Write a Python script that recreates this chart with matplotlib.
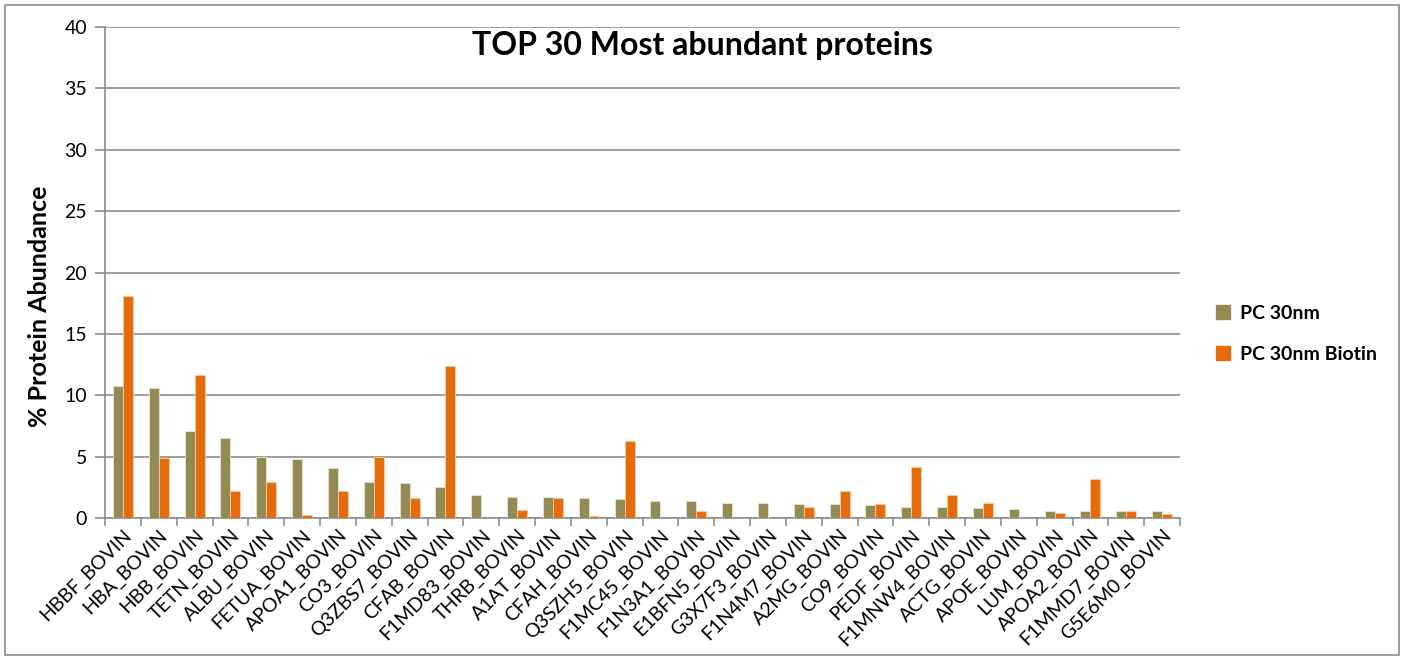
import numpy as np
import matplotlib
matplotlib.use('Agg')
import matplotlib.pyplot as plt
from matplotlib.patches import Rectangle, Patch

proteinas = ['HBBF_BOVIN', 'HBA_BOVIN', 'HBB_BOVIN', 'TETN_BOVIN', 'ALBU_BOVIN',
             'FETUA_BOVIN', 'APOA1_BOVIN', 'CO3_BOVIN', 'Q3ZBS7_BOVIN', 'CFAB_BOVIN',
             'F1MD83_BOVIN', 'THRB_BOVIN', 'A1AT_BOVIN', 'CFAH_BOVIN', 'Q3SZH5_BOVIN',
             'F1MC45_BOVIN', 'F1N3A1_BOVIN', 'E1BFN5_BOVIN', 'G3X7F3_BOVIN', 'F1N4M7_BOVIN',
             'A2MG_BOVIN', 'CO9_BOVIN', 'PEDF_BOVIN', 'F1MNW4_BOVIN', 'ACTG_BOVIN',
             'APOE_BOVIN', 'LUM_BOVIN', 'APOA2_BOVIN', 'F1MMD7_BOVIN', 'G5E6M0_BOVIN']
pc_30nm = [10.74, 10.55, 7.1, 6.53, 5.0, 4.81, 4.1, 2.9, 2.87, 2.51,
           1.91, 1.75, 1.75, 1.67, 1.53, 1.42, 1.42, 1.23, 1.23, 1.15,
           1.15, 1.09, 0.87, 0.87, 0.85, 0.74, 0.6, 0.57, 0.57, 0.57]
pc_30nm_biotin = [18.1, 4.92, 11.61, 2.16, 2.92, 0.27, 2.19, 5.0, 1.64, 12.35,
                  0.0, 0.66, 1.67, 0.14, 6.28, 0.0, 0.55, 0.0, 0.0, 0.93,
                  2.24, 1.17, 4.15, 1.86, 1.2, 0.0, 0.44, 3.17, 0.57, 0.3]

plt.rcParams['font.family'] = ['Lato', 'DejaVu Sans']

fig = plt.figure(figsize=(14.05, 6.59), dpi=100)
ax = fig.add_axes([105 / 1405, 141 / 659, 1075 / 1405, 491 / 659])

x = np.arange(len(proteinas))
w = 0.28
ax.bar(x - w / 2, pc_30nm, w, color='#948A54', edgecolor='#e8e4d4', linewidth=0.6,
       label='PC 30nm', zorder=3)
ax.bar(x + w / 2, pc_30nm_biotin, w, color='#E46C0A', edgecolor='#f6c9a4', linewidth=0.6,
       label='PC 30nm Biotin', zorder=3)

ax.set_xlim(-0.5, len(proteinas) - 0.5)
ax.set_ylim(0, 40)
ax.set_yticks(np.arange(0, 41, 5))
ax.yaxis.grid(True, color='#8c8c8c', linewidth=1.2)
ax.set_axisbelow(True)

# ticks entre categorias, etiquetas en el centro
ax.set_xticks(np.arange(-0.5, len(proteinas), 1))
ax.set_xticklabels([])
ax.set_xticks(x, minor=True)
ax.set_xticklabels(proteinas, minor=True, rotation=45, ha='right',
                   rotation_mode='anchor', fontsize=14)
ax.tick_params(axis='x', which='minor', length=0, pad=6)
ax.tick_params(axis='x', which='major', length=6, color='#8c8c8c', width=1.2)
ax.tick_params(axis='y', length=7, color='#8c8c8c', width=1.2, labelsize=14, pad=6)

for s in ['top', 'right']:
    ax.spines[s].set_visible(False)
for s in ['left', 'bottom']:
    ax.spines[s].set_color('#8c8c8c')
    ax.spines[s].set_linewidth(1.2)

ax.set_ylabel('% Protein Abundance', fontsize=18, fontweight='bold')
ax.yaxis.set_label_coords(-0.050, 0.432)
fig.text(702 / 1405, 1 - 45 / 659, 'TOP 30 Most abundant proteins', ha='center',
         va='center', fontsize=23, fontweight='bold')

handles = [Patch(color='#948A54', label='PC 30nm'),
           Patch(color='#E46C0A', label='PC 30nm Biotin')]
fig.legend(handles=handles, loc='center left', bbox_to_anchor=(1198 / 1405, 1 - 334 / 659),
           frameon=False, prop={'weight': 'bold', 'size': 14}, handlelength=0.75,
           handleheight=0.75, labelspacing=1.25, handletextpad=0.5)

fig.patches.append(Rectangle((5 / 1405, 4 / 659), 1394 / 1405, 650 / 659,
                             transform=fig.transFigure, fill=False,
                             edgecolor='#8c8c8c', linewidth=1.2))

fig.savefig('out.png', dpi=100)
